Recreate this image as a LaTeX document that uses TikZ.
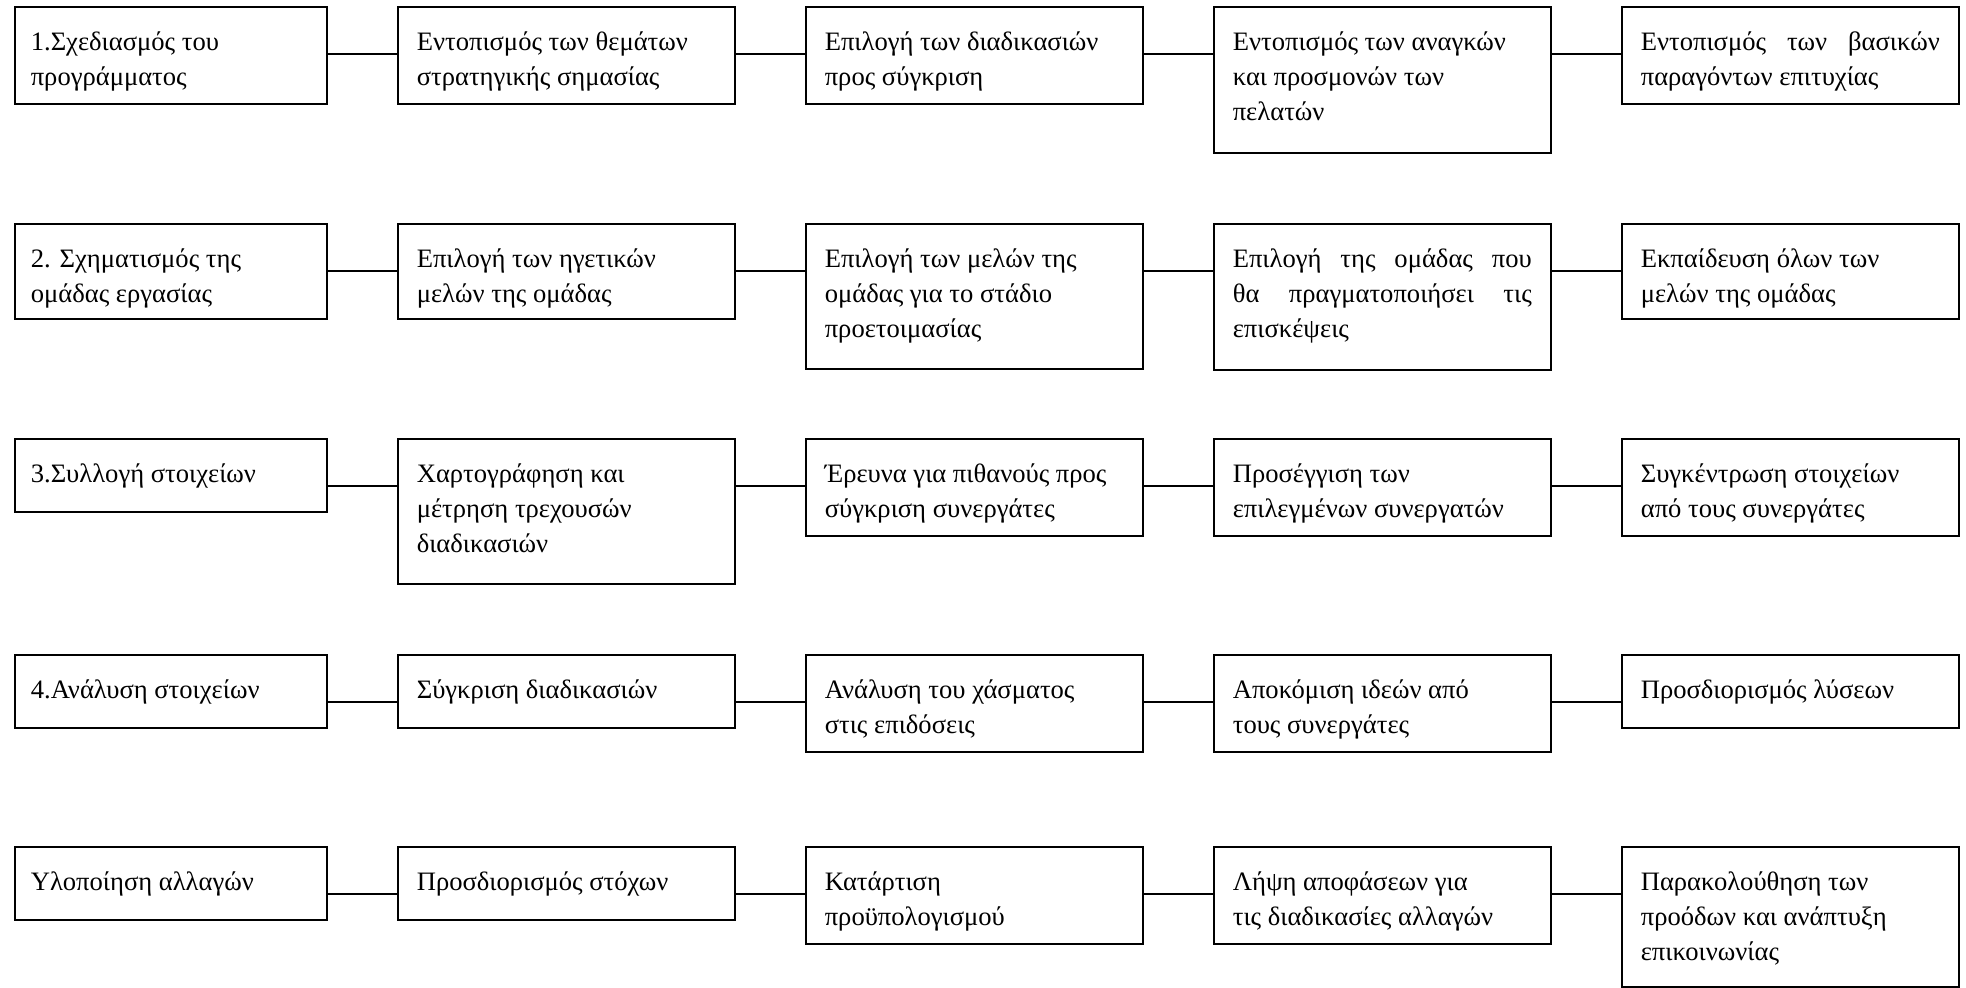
\documentclass[tikz,border=0pt]{standalone}
\usepackage{fontspec}
\setmainfont{Liberation Serif}
\usetikzlibrary{positioning}

% text of one box: [inner width]{height}{lines}
\newcommand{\steptext}[3][149.5pt]{\parbox[c][#2][t]{#1}{\raggedright\vspace*{9.5pt}\strut #3}}
\newcommand{\spread}[1]{\makebox[\linewidth][s]{#1}}

\begin{document}
\begin{tikzpicture}[x=0.5pt, y=-0.5pt,
    stepbox/.style={draw, line width=0.8pt, anchor=north west, inner xsep=9.5pt, inner ysep=0pt,
        font=\fontsize{13.3pt}{17.5pt}\selectfont},
    firstbox/.style={stepbox, inner xsep=8pt},
    link/.style={line width=0.8pt}]
    \useasboundingbox (0,0) rectangle (1966,988);

    % row 1
    \node[firstbox] (a1) at (14, 6) {\steptext[140pt]{48.5pt}{1.Σχεδιασμός του\\προγράμματος}};
    \node[stepbox] (a2) at (397, 6) {\steptext{48.5pt}{Εντοπισμός των θεμάτων\\στρατηγικής σημασίας}};
    \node[stepbox] (a3) at (805, 6) {\steptext{48.5pt}{Επιλογή των διαδικασιών\\προς σύγκριση}};
    \node[stepbox] (a4) at (1213, 6) {\steptext{73pt}{Εντοπισμός των αναγκών\\και προσμονών των\\πελατών}};
    \node[stepbox] (a5) at (1621, 6) {\steptext{48.5pt}{\spread{Εντοπισμός των βασικών}\\παραγόντων επιτυχίας}};

    % row 2
    \node[firstbox] (b1) at (14, 223) {\steptext[140pt]{47.5pt}{2. Σχηματισμός της\\ομάδας εργασίας}};
    \node[stepbox] (b2) at (397, 223) {\steptext{47.5pt}{Επιλογή των ηγετικών\\μελών της ομάδας}};
    \node[stepbox] (b3) at (805, 223) {\steptext{72.5pt}{Επιλογή των μελών της\\ομάδας για το στάδιο\\προετοιμασίας}};
    \node[stepbox] (b4) at (1213, 223) {\steptext{73pt}{\spread{Επιλογή της ομάδας που}\\\spread{θα πραγματοποιήσει τις}\\επισκέψεις}};
    \node[stepbox] (b5) at (1621, 223) {\steptext{47.5pt}{Εκπαίδευση όλων των\\μελών της ομάδας}};

    % row 3
    \node[firstbox] (c1) at (14, 438) {\steptext[140pt]{36.5pt}{3.Συλλογή στοιχείων}};
    \node[stepbox] (c2) at (397, 438) {\steptext{72.5pt}{Χαρτογράφηση και\\μέτρηση τρεχουσών\\διαδικασιών}};
    \node[stepbox] (c3) at (805, 438) {\steptext{48.5pt}{Έρευνα για πιθανούς προς\\σύγκριση συνεργάτες}};
    \node[stepbox] (c4) at (1213, 438) {\steptext{48.5pt}{Προσέγγιση των\\επιλεγμένων συνεργατών}};
    \node[stepbox] (c5) at (1621, 438) {\steptext{48.5pt}{Συγκέντρωση στοιχείων\\από τους συνεργάτες}};

    % row 4
    \node[firstbox] (d1) at (14, 654) {\steptext[140pt]{36.5pt}{4.Ανάλυση στοιχείων}};
    \node[stepbox] (d2) at (397, 654) {\steptext{36.5pt}{Σύγκριση διαδικασιών}};
    \node[stepbox] (d3) at (805, 654) {\steptext{48.5pt}{Ανάλυση του χάσματος\\στις επιδόσεις}};
    \node[stepbox] (d4) at (1213, 654) {\steptext{48.5pt}{Αποκόμιση ιδεών από\\τους συνεργάτες}};
    \node[stepbox] (d5) at (1621, 654) {\steptext{36.5pt}{Προσδιορισμός λύσεων}};

    % row 5
    \node[firstbox] (e1) at (14, 846) {\steptext[140pt]{36.5pt}{Υλοποίηση αλλαγών}};
    \node[stepbox] (e2) at (397, 846) {\steptext{36.5pt}{Προσδιορισμός στόχων}};
    \node[stepbox] (e3) at (805, 846) {\steptext{48.5pt}{Κατάρτιση\\προϋπολογισμού}};
    \node[stepbox] (e4) at (1213, 846) {\steptext{48.5pt}{Λήψη αποφάσεων για\\τις διαδικασίες αλλαγών}};
    \node[stepbox] (e5) at (1621, 846) {\steptext{70pt}{Παρακολούθηση των\\προόδων και ανάπτυξη\\επικοινωνίας}};

    % connectors, 48px below the top of each row
    \draw[link] ([yshift=-24pt]a1.north east) -- ([yshift=-24pt]a2.north west);
    \draw[link] ([yshift=-24pt]a2.north east) -- ([yshift=-24pt]a3.north west);
    \draw[link] ([yshift=-24pt]a3.north east) -- ([yshift=-24pt]a4.north west);
    \draw[link] ([yshift=-24pt]a4.north east) -- ([yshift=-24pt]a5.north west);
    \draw[link] ([yshift=-24pt]b1.north east) -- ([yshift=-24pt]b2.north west);
    \draw[link] ([yshift=-24pt]b2.north east) -- ([yshift=-24pt]b3.north west);
    \draw[link] ([yshift=-24pt]b3.north east) -- ([yshift=-24pt]b4.north west);
    \draw[link] ([yshift=-24pt]b4.north east) -- ([yshift=-24pt]b5.north west);
    \draw[link] ([yshift=-24pt]c1.north east) -- ([yshift=-24pt]c2.north west);
    \draw[link] ([yshift=-24pt]c2.north east) -- ([yshift=-24pt]c3.north west);
    \draw[link] ([yshift=-24pt]c3.north east) -- ([yshift=-24pt]c4.north west);
    \draw[link] ([yshift=-24pt]c4.north east) -- ([yshift=-24pt]c5.north west);
    \draw[link] ([yshift=-24pt]d1.north east) -- ([yshift=-24pt]d2.north west);
    \draw[link] ([yshift=-24pt]d2.north east) -- ([yshift=-24pt]d3.north west);
    \draw[link] ([yshift=-24pt]d3.north east) -- ([yshift=-24pt]d4.north west);
    \draw[link] ([yshift=-24pt]d4.north east) -- ([yshift=-24pt]d5.north west);
    \draw[link] ([yshift=-24pt]e1.north east) -- ([yshift=-24pt]e2.north west);
    \draw[link] ([yshift=-24pt]e2.north east) -- ([yshift=-24pt]e3.north west);
    \draw[link] ([yshift=-24pt]e3.north east) -- ([yshift=-24pt]e4.north west);
    \draw[link] ([yshift=-24pt]e4.north east) -- ([yshift=-24pt]e5.north west);
\end{tikzpicture}
\end{document}
